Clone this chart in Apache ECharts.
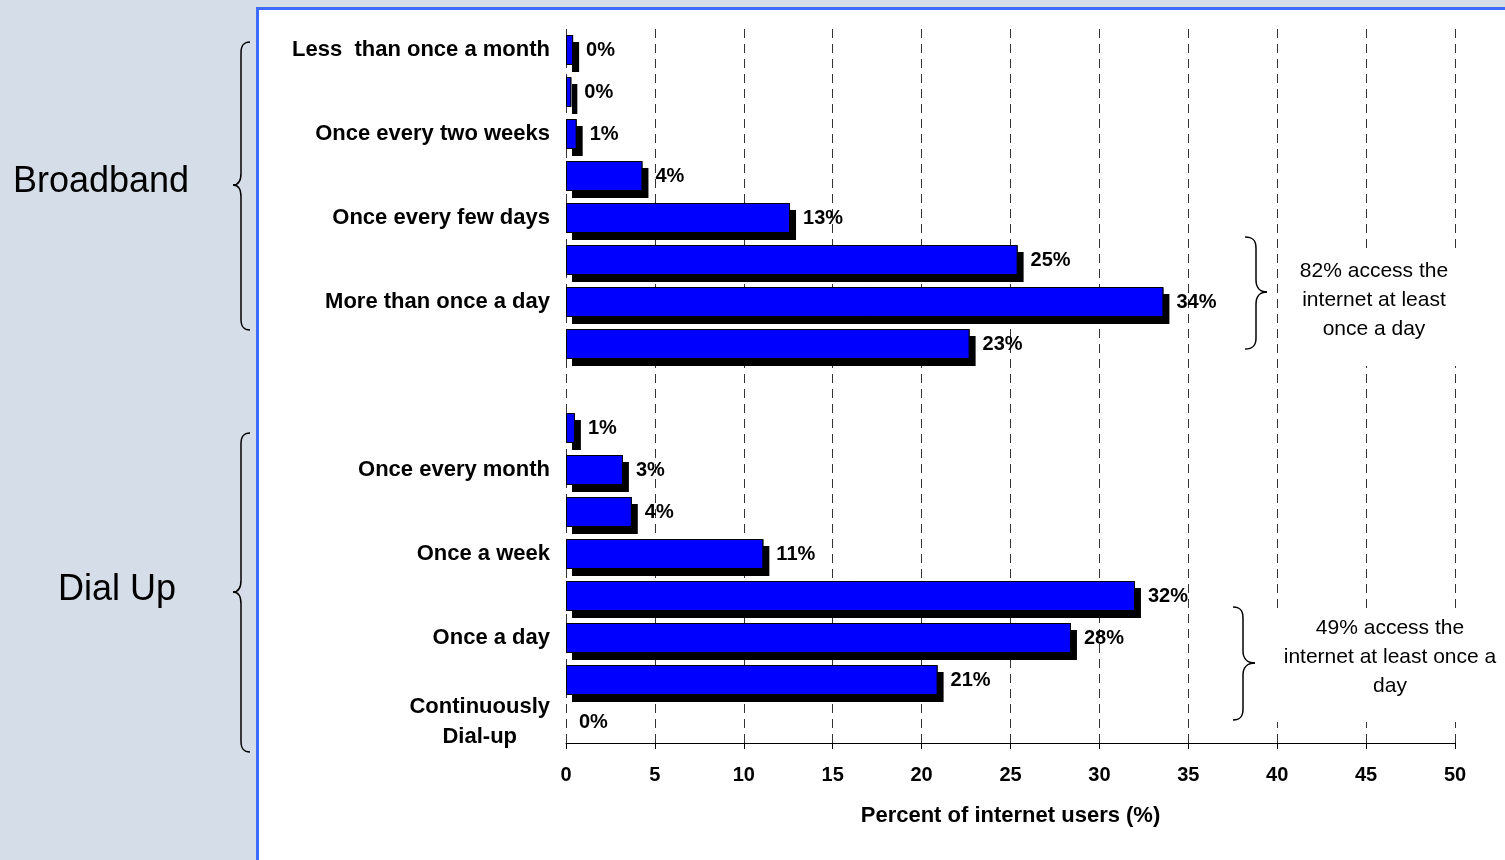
<!DOCTYPE html>
<html>
<head>
<meta charset="utf-8">
<script src="https://cdn.jsdelivr.net/npm/echarts@6/dist/echarts.min.js"></script>
<style>
html,body{margin:0;padding:0;background:#d5dee8;}
#chart{width:1505px;height:860px;}
</style>
</head>
<body>
<div id="chart"></div>
<script>
// ---- data ----
const categories = [
  'Less  than once a month', 'Once every month', 'Once every two weeks', 'Once a week',
  'Once every few days', 'Once a day', 'More than once a day', 'Continuously Broadband',
  '',
  'Less than once a month', 'Once every month', 'Once every two weeks', 'Once a week',
  'Once every few days', 'Once a day', 'More than once a day', 'Continuously\nDial-up'
];
const broadband = [0.4, 0.3, 0.6, 4.3, 12.6, 25.4, 33.6, 22.7];
const dialUp = [0.5, 3.2, 3.7, 11.1, 32.0, 28.4, 20.9, 0];
const xMin = 0, xMax = 50, xInterval = 5;
const groupLabels = ['Broadband', 'Dial Up'];
const notes = ['82% access the\ninternet at least\nonce a day', '49% access the\ninternet at least once a\nday'];
const axisTitle = 'Percent of internet users (%)';

// ---- build ----
const FONT = "'Liberation Sans', Arial, sans-serif";
const values = broadband.concat([null], dialUp);
const hiddenItem = {color: 'transparent', borderWidth: 0, shadowColor: 'transparent'};
const barData = values.map(v => v === 0 ? {value: v, itemStyle: hiddenItem} : v);
const shadowData = values.map(v => v === 0 ? {value: v, itemStyle: hiddenItem} : v);

const braceStyle = {fill: 'none', stroke: '#000', lineWidth: 1.5};
function brace(x0, xm, xt, yTop, yTip, yBot) {
  const d = xm - x0, e = xt - xm;
  const parts = [
    {type: 'bezierCurve', shape: {x1: x0, y1: yTop, cpx1: x0 + d*0.7, cpy1: yTop, cpx2: xm, cpy2: yTop+3, x2: xm, y2: yTop+11}},
    {type: 'line', shape: {x1: xm, y1: yTop+11, x2: xm, y2: yTip-12}},
    {type: 'bezierCurve', shape: {x1: xm, y1: yTip-12, cpx1: xm, cpy1: yTip-4, cpx2: xm + e*0.4, cpy2: yTip, x2: xt, y2: yTip}},
    {type: 'bezierCurve', shape: {x1: xt, y1: yTip, cpx1: xm + e*0.4, cpy1: yTip, cpx2: xm, cpy2: yTip+4, x2: xm, y2: yTip+12}},
    {type: 'line', shape: {x1: xm, y1: yTip+12, x2: xm, y2: yBot-11}},
    {type: 'bezierCurve', shape: {x1: xm, y1: yBot-11, cpx1: xm, cpy1: yBot-3, cpx2: x0 + d*0.7, cpy2: yBot, x2: x0, y2: yBot}}
  ];
  return parts.map(p => Object.assign(p, {z: 60, silent: true, style: Object.assign({}, braceStyle)}));
}

const chart = echarts.init(document.getElementById('chart'), null, {renderer: 'canvas'});
chart.setOption({
  backgroundColor: '#d5dee8',
  animation: false,
  textStyle: {fontFamily: FONT},
  grid: {left: 566, right: 50, top: 29, bottom: 117, containLabel: false},
  xAxis: {
    type: 'value', min: xMin, max: xMax, interval: xInterval,
    name: axisTitle, nameLocation: 'middle', nameGap: 62,
    nameTextStyle: {fontFamily: FONT, fontSize: 22, fontWeight: 'bold', color: '#000'},
    axisLine: {show: true, lineStyle: {color: '#000', width: 1}},
    axisTick: {show: true, length: 6, lineStyle: {color: '#000'}},
    axisLabel: {fontFamily: FONT, fontSize: 20, fontWeight: 'bold', color: '#000', margin: 22},
    splitLine: {show: true, lineStyle: {color: '#333', width: 1, type: [9, 6]}}
  },
  yAxis: {
    type: 'category', inverse: true, data: categories,
    axisLine: {show: false}, axisTick: {show: false},
    axisLabel: {
      interval: 1, margin: 16, color: '#000', fontFamily: FONT, fontSize: 22, fontWeight: 'bold',
      formatter: function (v) {
        if (v.indexOf('\n') >= 0) {
          return v.split('\n').map(s => '{c|' + s + '}').join('\n');
        }
        return v;
      },
      rich: {c: {align: 'center', fontFamily: FONT, fontSize: 22, fontWeight: 'bold', color: '#000', lineHeight: 30}}
    },
    splitLine: {show: false}
  },
  series: [{
    name: 'shadow', type: 'bar', data: shadowData, barWidth: 30, silent: true,
    itemStyle: {color: '#000', borderWidth: 0,
      shadowColor: '#000', shadowBlur: 0, shadowOffsetX: 6, shadowOffsetY: 7}
  }, {
    name: 'share', type: 'bar', data: barData, barWidth: 30, barGap: '-100%', silent: true,
    itemStyle: {color: '#0000ff', borderColor: '#000', borderWidth: 1},
    label: {
      show: true, position: 'right', distance: 13, color: '#000',
      fontFamily: FONT, fontSize: 20, fontWeight: 'bold',
      formatter: p => (p.value === null || p.value === undefined) ? '' : Math.round(p.value) + '%'
    }
  }],
  graphic: [
    {type: 'rect', z: -10, silent: true, shape: {x: 257.5, y: 8.5, width: 1400, height: 1000},
      style: {fill: '#ffffff', stroke: '#3d6cff', lineWidth: 3}},
    {type: 'rect', z: 50, silent: true, shape: {x: 1281, y: 250, width: 186, height: 116}, style: {fill: '#ffffff'}},
    {type: 'rect', z: 50, silent: true, shape: {x: 1268, y: 613, width: 240, height: 109}, style: {fill: '#ffffff'}}
  ].concat(
    brace(250, 241, 233, 42, 185, 330),
    brace(250, 241, 233, 433, 592, 752),
    brace(1245, 1256, 1267, 237, 292, 349),
    brace(1233, 1243, 1255, 607, 663, 720),
    [
      {type: 'text', z: 60, silent: true, style: {text: groupLabels[0], x: 101, y: 182, align: 'center', verticalAlign: 'middle',
        font: '36px ' + FONT, fill: '#000'}},
      {type: 'text', z: 60, silent: true, style: {text: groupLabels[1], x: 117, y: 590, align: 'center', verticalAlign: 'middle',
        font: '36px ' + FONT, fill: '#000'}},
      {type: 'text', z: 60, silent: true, style: {text: notes[0], x: 1374, y: 300, align: 'center', verticalAlign: 'middle',
        font: '21px ' + FONT, fill: '#000', lineHeight: 29}},
      {type: 'text', z: 60, silent: true, style: {text: notes[1], x: 1390, y: 657, align: 'center', verticalAlign: 'middle',
        font: '21px ' + FONT, fill: '#000', lineHeight: 29}}
    ]
  )
});
</script>
</body>
</html>
